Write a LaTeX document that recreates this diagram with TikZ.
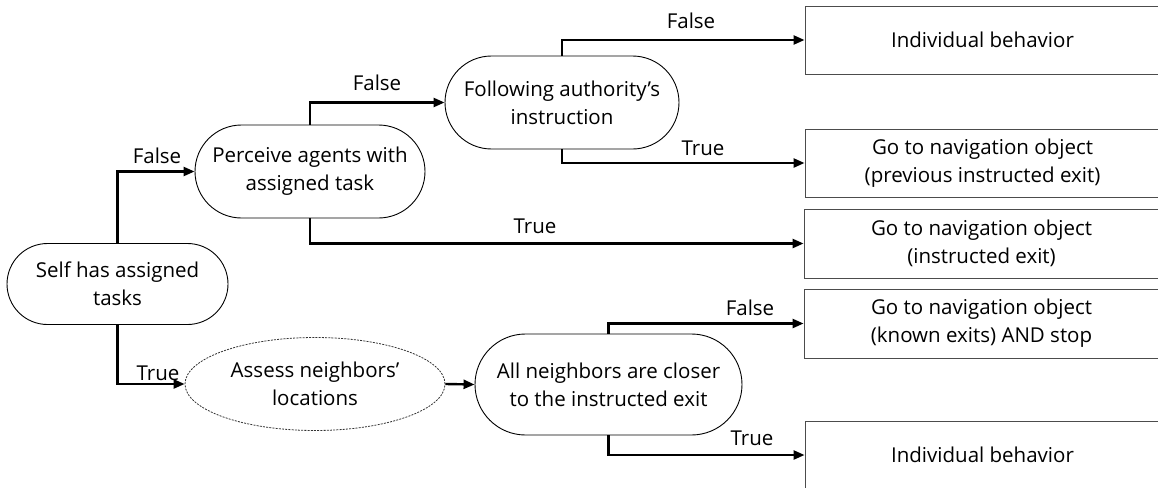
\documentclass[tikz,border=0pt]{standalone}
\usepackage{fontspec}
\setmainfont{Open Sans}
\usetikzlibrary{arrows.meta,shapes.geometric}

\tikzset{
  txt/.style={font=\fontsize{20.5}{28}\selectfont, align=center, inner sep=0pt},
  decision/.style={txt, draw=black, line width=0.9pt, rounded corners=#1, minimum height=2*#1},
  outcome/.style={txt, draw=black!70, line width=0.9pt, minimum height=68pt, minimum width=355pt},
  assessnode/.style={txt, ellipse, draw=black!80, line width=0.8pt, dash pattern=on 2pt off 1.2pt,
    minimum width=260pt, minimum height=93pt},
  conn/.style={line width=2.4pt, -{Triangle[length=11pt,width=9pt]}},
  lbl/.style={font=\fontsize{20.5}{24}\selectfont, inner sep=0pt}
}

\begin{document}
\begin{tikzpicture}[x=1pt,y=-1pt]
  \clip (0,0) rectangle (1158,487);

  % decisions
  \node[decision=40.5pt, minimum width=221pt] (self) at (117.5,284) {Self has assigned\\tasks};
  \node[decision=46.5pt, minimum width=230pt] (perc) at (310,171.5) {Perceive agents with\\assigned task};
  \node[decision=46.5pt, minimum width=234pt] (foll) at (562,102.5) {Following authority’s\\instruction};
  \node[assessnode] (assess) at (315,384) {Assess neighbors’\\locations};
  \node[decision=50.5pt, minimum width=267pt] (alln) at (608.5,384.5) {All neighbors are closer\\to the instructed exit};

  % outcomes
  \node[outcome] (b1) at (982.5,40) {Individual behavior};
  \node[outcome] (b2) at (982.5,163) {Go to navigation object\\(previous instructed exit)};
  \node[outcome, minimum height=69pt] (b3) at (981.5,243.5) {Go to navigation object\\(instructed exit)};
  \node[outcome, minimum height=69pt] (b4) at (981.5,323.5) {Go to navigation object\\(known exits) AND stop};
  \node[outcome] (b5) at (982.5,455) {Individual behavior};

  % connectors
  \draw[conn] (self.north) |- (perc.west);
  \draw[conn] (self.south) |- (assess.west);
  \draw[conn] (perc.north) |- (foll.west);
  \draw[conn] (perc.south) |- (b3.west);
  \draw[conn] (foll.north) |- (b1.west);
  \draw[conn] (foll.south) |- (b2.west);
  \draw[conn] (assess.east) -- (alln.west);
  \draw[conn] (alln.north) |- (b4.west);
  \draw[conn] (alln.south) |- (b5.west);

  % branch labels
  \node[lbl] (l1) at (157,156) {False};
  \node[lbl] (l2) at (158,373) {True};
  \node[lbl] (l3) at (377,83) {False};
  \node[lbl] (l4) at (535,226) {True};
  \node[lbl] (l5) at (691,21) {False};
  \node[lbl] (l6) at (703,148) {True};
  \node[lbl] (l7) at (750,308) {False};
  \node[lbl] (l8) at (752,438) {True};
\end{tikzpicture}
\end{document}
